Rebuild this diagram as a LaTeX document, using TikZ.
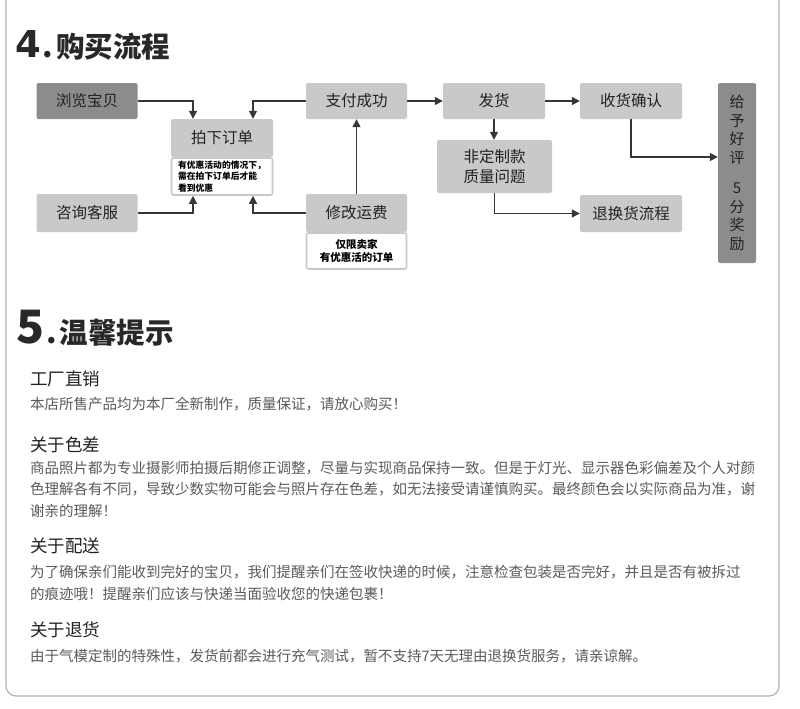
\documentclass[tikz,border=0pt]{standalone}
\usepackage{fontspec}
\setmainfont{Noto Sans CJK SC}
\newfontfamily\digitfont{DejaVu Sans}
\usepackage{tikz}
\usetikzlibrary{arrows.meta,positioning}
\usepackage{xcolor}
\definecolor{boxgray}{RGB}{201,201,201}
\definecolor{boxdark}{RGB}{140,140,140}
\definecolor{linegray}{RGB}{55,55,55}
\definecolor{framegray}{RGB}{178,178,178}
\definecolor{txttitle}{RGB}{40,40,40}
\definecolor{txthead}{RGB}{34,34,34}
\definecolor{txtbody}{RGB}{90,90,90}

\begin{document}
\begin{tikzpicture}[x=1pt, y=-1pt,
  box/.style={fill=boxgray, rounded corners=2pt, align=center, inner sep=2pt,
              font=\fontsize{15.5}{19}\selectfont, text=txthead,
              minimum width=101pt, minimum height=36pt},
  darkbox/.style={box, fill=boxdark},
  notebox/.style={draw=boxgray, line width=1.6pt, fill=white, rounded corners=2pt,
              inner sep=2pt, text=black, minimum width=100pt, minimum height=36pt},
  arr/.style={-{Triangle[length=8pt,width=8pt]}, line width=1.3pt, draw=linegray},
  hdtext/.style={anchor=west, inner sep=0pt, text=txthead,
              font=\fontsize{17.5}{20}\selectfont},
  bdtext/.style={anchor=west, inner sep=0pt, align=left, text=txtbody,
              font=\fontsize{14.5}{21.5}\selectfont}]
\useasboundingbox (0,0) rectangle (800,709);
\draw[framegray, line width=1.2pt, rounded corners=10pt]
  (6,0) -- (6,696) -- (779,696) -- (779,0);

\node[anchor=base west, inner sep=0pt, text=txttitle, font=\bfseries] (title4) at (15,57)
  {{\digitfont\fontsize{37}{37}\selectfont 4}\hspace{2pt}{\fontsize{30}{30}\selectfont .}\hspace{3pt}{\fontsize{28.5}{30}\selectfont 购买流程}};

\node[darkbox] (browse) at (87,101) {浏览宝贝};
\node[box, minimum height=38pt] (consult) at (87,213) {咨询客服};
\node[box, minimum width=102pt, minimum height=38pt] (order) at (222,138) {拍下订单};
\node[notebox, below=0pt of order, align=left, minimum width=101pt, minimum height=37pt,
      font=\fontsize{8.8}{11.5}\selectfont\bfseries] (ordernote)
  {有优惠活动的情况下，\\需在拍下订单后才能\\看到优惠};
\node[box] (paid) at (356.5,101) {支付成功};
\node[box, minimum height=38pt] (fee) at (356.5,213) {修改运费};
\node[notebox, below=0pt of fee, align=center,
      font=\fontsize{10.5}{12.5}\selectfont\bfseries] (feenote)
  {仅限卖家\\有优惠活的订单};
\node[box, minimum width=102pt] (ship) at (494,101) {发货};
\node[box, minimum width=102pt] (confirm) at (631,101) {收货确认};
\node[box, minimum width=115pt, minimum height=53pt,
      font=\fontsize{15.5}{20}\selectfont] (quality) at (494.5,166.5) {非定制款\\质量问题};
\node[box, minimum width=102pt, minimum height=37pt] (exchange) at (631,213.5) {退换货流程};
\node[darkbox, minimum width=38pt, minimum height=180pt,
      font=\fontsize{15}{18.5}\selectfont] (review) at (737,173)
  {给\\予\\好\\评\\[12pt]5\\分\\奖\\励};

\draw[arr] (browse.east) -| ([xshift=-29pt]order.north);
\draw[arr] (paid.west) -| ([xshift=31pt]order.north);
\draw[arr] (consult.east) -| ([xshift=-29pt]ordernote.south);
\draw[arr] (fee.west) -| ([xshift=31pt]ordernote.south);
\draw[arr] (fee) -- (paid);
\draw[arr] (paid) -- (ship);
\draw[arr] (ship) -- (confirm);
\draw[arr] (ship.south) -- (ship.south |- quality.north);
\draw[arr] (confirm.south) |- ([yshift=16pt]review.west);
\draw[arr] (quality.south) |- (exchange.west);

\node[anchor=base west, inner sep=0pt, text=txttitle, font=\bfseries] (title5) at (16,343)
  {{\fontsize{46}{46}\selectfont 5}\hspace{2pt}{\fontsize{30}{30}\selectfont .}\hspace{3pt}{\fontsize{28.5}{30}\selectfont 温馨提示}};

\node[hdtext] (direct) at (30,379) {工厂直销};
\node[bdtext] (directtxt) at (30,404) {本店所售产品均为本厂全新制作，质量保证，请放心购买！};
\node[hdtext] (colour) at (30,445) {关于色差};
\node[bdtext] (colourtxt) at (30,489)
  {商品照片都为专业摄影师拍摄后期修正调整，尽量与实现商品保持一致。但是于灯光、显示器色彩偏差及个人对颜\\
   色理解各有不同，导致少数实物可能会与照片存在色差，如无法接受请谨慎购买。最终颜色会以实际商品为准，谢\\
   谢亲的理解！};
\node[hdtext] (delivery) at (30,546) {关于配送};
\node[bdtext] (deliverytxt) at (30,583)
  {为了确保亲们能收到完好的宝贝，我们提醒亲们在签收快递的时候，注意检查包装是否完好，并且是否有被拆过\\
   的痕迹哦！提醒亲们应该与快递当面验收您的快递包裹！};
\node[hdtext] (refund) at (30,630) {关于退货};
\node[bdtext] (refundtxt) at (30,656)
  {由于气模定制的特殊性，发货前都会进行充气测试，暂不支持7天无理由退换货服务，请亲谅解。};
\end{tikzpicture}
\end{document}
